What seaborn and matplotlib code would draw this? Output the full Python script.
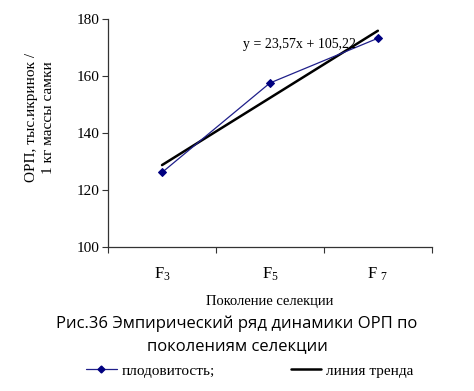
import matplotlib
matplotlib.use("Agg")
import matplotlib.pyplot as plt
import seaborn as sns
import pandas as pd
from matplotlib.lines import Line2D

generations = ["F$_3$", "F$_5$", "F $_7$"]
fecundity = [126.2, 157.6, 173.3]
trend = [128.79, 152.36, 175.93]
y_ticks = [100, 120, 140, 160, 180]

sns.set_theme(style="ticks")
plt.rcParams["font.family"] = ["Liberation Serif", "DejaVu Serif"]
plt.rcParams["mathtext.fontset"] = "custom"
plt.rcParams["mathtext.rm"] = "Liberation Serif"
plt.rcParams["mathtext.it"] = "Liberation Serif"
plt.rcParams["text.color"] = "black"
plt.rcParams["axes.labelcolor"] = "black"
plt.rcParams["xtick.color"] = "#333333"
plt.rcParams["ytick.color"] = "#333333"
plt.rcParams["xtick.labelcolor"] = "black"
plt.rcParams["ytick.labelcolor"] = "black"

df = pd.DataFrame({"pos": range(len(generations)), "val": fecundity, "trend": trend})

fig = plt.figure(figsize=(4.74, 3.91), dpi=100)
ax = fig.add_axes([0.228, 0.368, 0.683, 0.583])

sns.lineplot(data=df, x="pos", y="trend", ax=ax, color="black", linewidth=1.8)
sns.lineplot(data=df, x="pos", y="val", ax=ax, color="#1f1f8a", linewidth=0.9,
             marker="D", markersize=4, markeredgecolor="#000080",
             markerfacecolor="#000080")

ax.set_xlim(-0.5, 2.5)
ax.set_ylim(100, 180)
ax.set_yticks(y_ticks)
ax.set_xticks([-0.5, 0.5, 1.5, 2.5])
ax.set_xticklabels([])
ax.set_xticks([0, 1, 2], minor=True)
ax.set_xticklabels(generations, minor=True, fontsize=12)
ax.tick_params(axis="x", which="minor", length=0, pad=13)
ax.tick_params(axis="x", which="major", length=4, width=0.8)
ax.tick_params(axis="y", length=4, width=0.8, labelsize=11, pad=2)
for s in ["top", "right"]:
    ax.spines[s].set_visible(False)
for s in ["left", "bottom"]:
    ax.spines[s].set_linewidth(0.9)
    ax.spines[s].set_color("#333333")

ax.set_xlabel("Поколение селекции", fontsize=10.5, labelpad=9)
ax.set_ylabel("ОРП, тыс.икринок /\n1 кг массы самки", fontsize=11,
              linespacing=1.4)
ax.yaxis.set_label_coords(-0.165, 0.57)

ax.text(0.75, 171.0, "y = 23,57x + 105,22", fontsize=10, ha="left", va="center")

fig.text(0.5, 0.143, "Рис.36 Эмпирический ряд динамики ОРП по\nпоколениям селекции",
         ha="center", va="center", fontsize=12, linespacing=1.55,
         family=["Open Sans", "DejaVu Sans"])

handles = [
    Line2D([], [], color="#1f1f8a", linewidth=0.9, marker="D", markersize=3.5,
           markerfacecolor="#000080", markeredgecolor="#000080"),
    Line2D([], [], color="black", linewidth=1.8),
]
fig.legend(handles, ["плодовитость;", "линия тренда"], loc="center",
           bbox_to_anchor=(0.527, 0.052), ncol=2, frameon=False, fontsize=11,
           handlelength=2.0, handletextpad=0.3, columnspacing=5.0)

fig.savefig("out.png", dpi=100)
